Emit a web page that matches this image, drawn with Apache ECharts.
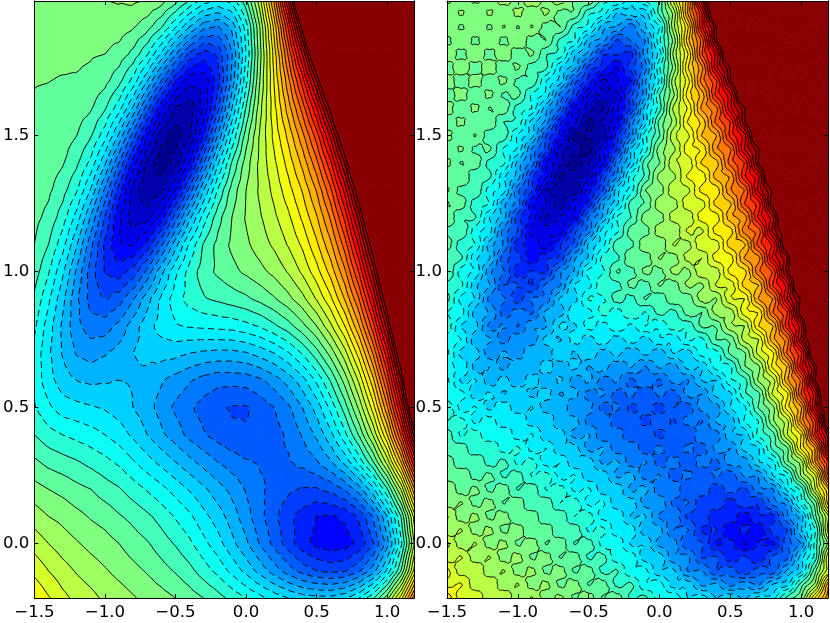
<!DOCTYPE html>
<html>
<head>
<meta charset="utf-8">
<style>
html, body { margin: 0; padding: 0; background: #fff; }
#chart { width: 830px; height: 623px; }
</style>
<script src="https://cdn.jsdelivr.net/npm/echarts@6/dist/echarts.min.js"></script>
</head>
<body>
<div id="chart"></div>
<script>
const xTicks = [-1.5, -1.0, -0.5, 0.0, 0.5, 1.0];
const yTicks = [0.0, 0.5, 1.0, 1.5];
const levels = [-150, -140, -130, -120, -110, -100, -90, -80, -70, -60, -50, -40, -30, -20, -10, 0, 10, 20, 30, 40, 50, 60, 70, 80, 90, 100, 110, 120, 130, 140, 150, 160, 170, 180, 190, 200];

const gridX = [-1.5, -1.4, -1.3, -1.2, -1.1, -1.0, -0.9, -0.8, -0.7, -0.6, -0.5, -0.4, -0.3, -0.2, -0.1, 0, 0.1, 0.2, 0.3, 0.4, 0.5, 0.6, 0.7, 0.8, 0.9, 1.0, 1.1, 1.2];
const leftY = [2.0, 1.9, 1.8, 1.7, 1.6, 1.5, 1.4, 1.3, 1.2, 1.1, 1.0, 0.9, 0.8, 0.7, 0.6, 0.5, 0.4, 0.3, 0.2, 0.1, 0, -0.1, -0.2];
const rightY = [2.0, 1.95, 1.9, 1.85, 1.8, 1.75, 1.7, 1.65, 1.6, 1.55, 1.5, 1.45, 1.4, 1.35, 1.3, 1.25, 1.2, 1.15, 1.1, 1.05, 1.0, 0.95, 0.9, 0.85, 0.8, 0.75, 0.7, 0.65, 0.6, 0.55, 0.5, 0.45, 0.4, 0.35, 0.3, 0.25, 0.2, 0.15, 0.1, 0.05, 0, -0.05, -0.1, -0.15, -0.2];

// left panel, one row per leftY
const leftZ = [
  [27,27,27,28,29,30,31,32,30,25,15,1,-13,-20,-15,8,48,104,172,251,300,300,300,300,300,300,300,300],
  [24,24,24,24,25,25,25,21,14,1,-19,-40,-57,-61,-47,-15,31,84,142,206,280,300,300,300,300,300,300,300],
  [22,22,22,22,21,20,16,7,-9,-32,-59,-83,-95,-88,-61,-20,27,75,122,171,229,300,300,300,300,300,300,300],
  [20.4,20.1,19.4,19,17,13,3,-14,-40,-71,-100,-118,-117,-95,-57,-13,31,71,107,145,189,247,300,300,300,300,300,300],
  [19,18,17,15,11,1,-16,-42,-76,-109,-132,-136,-118,-83,-40,1,37,67,95,124,159,205,269,300,300,300,300,300],
  [18,17,15,10,1,-16,-42,-75,-110,-137,-145,-132,-100,-59,-19,15,42,63,83,107,135,173,224,296,300,300,300,300],
  [17,15,11,2,-13,-38,-70,-105,-133,-146,-137,-109,-71,-32,1,25,43,58,74,93,117,148,191,249,300,300,300,300],
  [16,12,4,-9,-31,-62,-95,-124,-139,-133,-110,-76,-40,-9,14,30,42,53,66,81,101,128,164,213,280,300,300,300],
  [13,7,-5,-24,-51,-81,-109,-126,-124,-106,-75,-43,-15,6,20,31,39,48,58,72,89,112,143,185,242,300,300,300],
  [10,0,-16,-39,-67,-92,-109,-111,-97,-72,-44,-18,1,13,22,28,35,42,51,62,78,98,125,162,211,279,300,300],
  [5,-9,-28,-52,-75,-91,-95,-86,-67,-43,-22,-6,5,12,17,22,27,33,41,52,66,84,108,141,185,244,300,300],
  [-2,-18,-37,-58,-74,-80,-75,-61,-44,-28,-15,-6,-1,2,5,8,13,19,27,37,51,68,91,120,160,214,286,300],
  [-8,-25,-42,-57,-65,-65,-57,-45,-34,-26,-21,-19,-18,-17,-16,-13,-9,-2,6,17,30,48,70,99,136,185,252,300],
  [-13,-28,-41,-51,-54,-51,-46,-40,-37,-36,-37,-40,-42,-43,-43,-41,-36,-30,-21,-9,6,24,46,75,111,157,218,300],
  [-13,-26,-35,-40,-42,-41,-40,-41,-44,-49,-54,-59,-64,-67,-67,-66,-62,-55,-46,-34,-18,1,24,52,87,132,190,268],
  [-9,-18,-25,-27,-29,-31,-35,-40,-46,-54,-62,-68,-74,-78,-81,-81,-76,-70,-62,-50,-36,-17,5,32,65,108,163,235],
  [0,-6,-10,-13,-16,-20,-25,-32,-40,-48,-55,-63,-69,-74,-78,-79,-77,-74,-68,-59,-48,-33,-13,11,41,80,132,199],
  [12,7,4,1,-3,-7,-12,-19,-26,-33,-40,-47,-54,-60,-65,-69,-71,-72,-71,-67,-61,-51,-37,-17,9,44,91,154],
  [24,20,17,13,10,5,1,-5,-11,-17,-24,-31,-38,-46,-53,-61,-68,-74,-78,-81,-81,-77,-69,-55,-33,-1,42,103],
  [35,30,27,23,19,16,11,7,2,-4,-11,-18,-27,-35,-45,-56,-67,-77,-87,-94,-100,-101,-98,-88,-69,-40,1,59],
  [46,40,35,31,27,24,20,15,11,5,-1,-8,-17,-26,-37,-48,-61,-73,-85,-96,-103,-106,-105,-97,-81,-54,-12,45],
  [57,50,44,39,35,31,27,23,19,14,9,3,-5,-13,-23,-33,-44,-55,-65,-74,-80,-83,-81,-72,-55,-28,11,68],
  [70,61,53,47,43,38,35,31,27,24,20,15,10,4,-3,-10,-17,-24,-30,-35,-37,-37,-32,-20,-2,26,66,120]
];

// right panel, one row per rightY, rippled version
const rightZ = [
  [33,21,33,22,35,24,37,26,36,19,21,-5,-7,-26,-9,2,54,98,180,243,300,300,300,300,300,300,300,300],
  [20,32,20,32,21,33,22,32,16,19,-8,-14,-41,-35,-37,3,33,101,149,238,285,300,300,300,300,300,300,300],
  [30,18,30,18,31,19,31,15,20,-5,-13,-46,-51,-67,-41,-21,37,78,150,198,290,300,300,300,300,300,300,300],
  [17,29,17,29,17,28,15,20,-3,-10,-45,-56,-82,-69,-60,-12,23,86,124,198,247,300,300,300,300,300,300,300],
  [28,16,28,16,27,14,22,1,-3,-38,-53,-89,-89,-94,-55,-26,33,69,130,163,238,300,300,300,300,300,300,300],
  [15,27,15,26,13,22,4,2,-30,-46,-85,-95,-112,-86,-65,-11,23,79,107,167,201,283,300,300,300,300,300,300],
  [26,14,25,13,23,7,9,-20,-34,-77,-94,-124,-111,-101,-51,-19,37,65,115,137,197,239,300,300,300,300,300,300],
  [14,25,12,23,8,13,-12,-22,-64,-84,-122,-121,-123,-83,-54,0,28,75,94,143,166,235,276,300,300,300,300,300],
  [25,12,23,9,17,-5,-10,-48,-70,-115,-126,-142,-112,-89,-34,-5,43,61,103,116,167,197,278,300,300,300,300,300],
  [13,23,10,18,0,-2,-35,-53,-99,-117,-144,-128,-115,-65,-35,14,33,71,82,123,140,198,238,300,300,300,300,300],
  [24,11,21,4,7,-22,-36,-81,-104,-143,-139,-138,-94,-65,-13,9,48,57,91,99,143,165,234,286,300,300,300,300],
  [12,22,7,12,-12,-21,-62,-84,-127,-135,-147,-114,-91,-39,-15,26,37,67,71,108,118,170,198,283,300,300,300,300],
  [23,9,17,-4,-7,-44,-64,-111,-127,-149,-131,-115,-65,-38,7,19,49,52,82,85,125,140,201,239,300,300,300,300],
  [11,20,2,3,-28,-44,-88,-108,-142,-133,-129,-86,-61,-14,2,34,37,62,63,95,101,148,168,241,282,300,300,300],
  [22,6,10,-15,-25,-68,-89,-130,-133,-139,-104,-82,-34,-15,20,24,48,47,74,73,109,120,174,203,290,300,300,300],
  [9,16,-6,-10,-47,-65,-108,-119,-137,-113,-98,-53,-33,5,11,37,35,57,55,84,88,130,144,209,252,300,300,300],
  [19,1,1,-30,-45,-87,-103,-132,-118,-112,-69,-49,-9,0,26,25,45,42,66,64,97,104,153,175,252,300,300,300],
  [6,10,-16,-25,-65,-80,-115,-112,-116,-83,-65,-24,-13,16,15,36,31,52,48,75,75,115,124,184,216,298,300,300],
  [16,-6,-10,-45,-61,-98,-103,-117,-91,-78,-38,-24,7,7,28,22,41,36,59,54,86,88,135,152,221,269,300,300],
  [2,2,-28,-39,-77,-85,-108,-92,-88,-51,-39,-6,-3,19,14,31,25,44,40,65,64,101,106,162,188,272,300,300],
  [11,-15,-22,-58,-69,-97,-89,-92,-61,-49,-16,-12,11,6,23,16,33,27,49,44,74,76,118,131,195,234,300,300],
  [-4,-7,-38,-49,-80,-79,-91,-67,-61,-29,-24,0,-4,13,5,21,14,32,28,51,52,84,90,141,163,239,285,300],
  [4,-24,-31,-64,-68,-86,-69,-67,-38,-34,-9,-12,5,-4,11,2,19,13,35,29,59,60,101,110,170,204,296,300],
  [-11,-15,-45,-51,-75,-66,-72,-47,-45,-21,-24,-6,-15,-1,-11,4,-4,15,10,34,33,66,71,120,138,210,259,300],
  [-2,-31,-36,-63,-59,-71,-51,-51,-28,-32,-15,-25,-12,-23,-10,-19,-3,-8,12,11,38,40,80,89,146,175,262,300],
  [-16,-20,-47,-48,-65,-52,-57,-36,-41,-25,-35,-23,-36,-24,-35,-21,-28,-10,-13,10,12,44,50,97,114,181,225,300],
  [-7,-34,-35,-57,-48,-57,-40,-46,-31,-42,-31,-46,-36,-49,-37,-47,-30,-36,-15,-15,12,18,54,67,121,147,228,290],
  [-19,-21,-44,-40,-54,-40,-49,-35,-46,-37,-51,-44,-59,-49,-61,-48,-55,-36,-39,-15,-12,19,27,73,90,155,194,295],
  [-7,-32,-29,-46,-36,-47,-34,-47,-38,-55,-48,-65,-58,-73,-61,-72,-56,-61,-40,-40,-12,-5,32,44,97,122,200,258],
  [-17,-16,-36,-28,-41,-30,-43,-35,-51,-46,-64,-58,-75,-67,-80,-67,-75,-57,-60,-36,-33,-2,7,52,66,130,166,262],
  [-3,-24,-19,-33,-23,-37,-29,-46,-40,-60,-56,-74,-68,-84,-74,-85,-70,-76,-56,-56,-30,-23,11,26,75,98,173,225],
  [-10,-6,-23,-14,-28,-20,-36,-30,-49,-45,-64,-60,-77,-70,-84,-73,-82,-66,-71,-49,-48,-19,-10,28,45,104,137,229],
  [6,-12,-4,-19,-10,-26,-19,-38,-34,-54,-49,-69,-63,-80,-71,-84,-71,-80,-62,-65,-42,-39,-7,5,49,70,142,189],
  [0,7,-9,0,-15,-8,-24,-20,-39,-35,-53,-49,-67,-61,-77,-67,-80,-67,-75,-57,-60,-36,-31,3,17,72,101,187],
  [18,1,10,-5,3,-13,-6,-25,-20,-39,-34,-53,-48,-66,-59,-75,-65,-78,-65,-73,-55,-57,-31,-23,17,34,101,144],
  [12,20,5,13,-2,5,-11,-6,-24,-19,-38,-33,-52,-47,-65,-59,-75,-67,-80,-68,-77,-58,-59,-30,-18,31,57,138],
  [30,14,23,7,16,-1,7,-11,-5,-23,-18,-37,-32,-52,-47,-67,-62,-80,-72,-87,-75,-83,-63,-61,-27,-7,50,93],
  [24,31,16,24,9,17,0,7,-10,-4,-23,-18,-38,-34,-55,-52,-73,-69,-88,-81,-96,-83,-89,-65,-57,-14,15,91],
  [41,24,33,17,25,10,17,1,8,-10,-5,-24,-21,-41,-39,-62,-61,-83,-81,-100,-94,-107,-92,-94,-63,-46,7,53],
  [35,41,25,33,17,26,10,17,1,7,-12,-7,-28,-24,-47,-46,-70,-69,-92,-89,-108,-97,-108,-86,-81,-41,-11,60],
  [52,34,41,25,33,18,26,9,17,-1,5,-14,-11,-32,-31,-54,-55,-79,-79,-102,-97,-112,-99,-103,-75,-60,-6,37],
  [46,51,34,41,25,34,18,25,9,16,-2,4,-17,-13,-36,-34,-58,-58,-81,-79,-97,-88,-99,-78,-74,-35,-6,64],
  [63,44,50,33,41,25,33,17,25,8,15,-3,1,-19,-17,-39,-38,-61,-59,-80,-74,-89,-75,-78,-49,-34,17,60],
  [58,61,43,49,33,41,25,33,17,25,9,15,-3,2,-19,-15,-36,-33,-53,-48,-64,-54,-62,-40,-34,5,33,102],
  [76,55,59,41,49,32,41,25,33,18,26,9,16,-2,3,-16,-11,-30,-24,-41,-31,-43,-26,-26,4,20,72,112]
];

function jet(t) {
  const c = (v) => Math.round(255 * Math.max(0, Math.min(1, v)));
  return "rgb(" + c(1.5 - Math.abs(4 * t - 3)) + "," + c(1.5 - Math.abs(4 * t - 2)) + "," + c(1.5 - Math.abs(4 * t - 1)) + ")";
}

// split a cell into 4 triangles around its centre
function cellTriangles(zRows, ys, i, j) {
  const a = [gridX[i], ys[j], zRows[j][i]];
  const b = [gridX[i + 1], ys[j], zRows[j][i + 1]];
  const c = [gridX[i + 1], ys[j + 1], zRows[j + 1][i + 1]];
  const d = [gridX[i], ys[j + 1], zRows[j + 1][i]];
  const m = [(a[0] + b[0]) / 2, (a[1] + d[1]) / 2, (a[2] + b[2] + c[2] + d[2]) / 4];
  return [[a, b, m], [b, c, m], [c, d, m], [d, a, m]];
}

function clipPoly(poly, level, above) {
  const out = [];
  for (let k = 0; k < poly.length; k++) {
    const p = poly[k];
    const q = poly[(k + 1) % poly.length];
    const pIn = above ? p[2] >= level : p[2] <= level;
    const qIn = above ? q[2] >= level : q[2] <= level;
    if (pIn) out.push(p);
    if (pIn !== qIn) {
      const t = (level - p[2]) / (q[2] - p[2]);
      out.push([p[0] + t * (q[0] - p[0]), p[1] + t * (q[1] - p[1]), level]);
    }
  }
  return out;
}

function makeBands(zRows, ys) {
  const cells = [];
  for (let j = 0; j < ys.length - 1; j++) {
    for (let i = 0; i < gridX.length - 1; i++) {
      const polys = [];
      cellTriangles(zRows, ys, i, j).forEach((tri) => {
        const top = levels[levels.length - 1];
        const over = clipPoly(tri, top, true);
        if (over.length > 2) polys.push({ pts: over, color: "#880000" });
        for (let l = 0; l < levels.length - 1; l++) {
          const lo = levels[l];
          const hi = levels[l + 1];
          let band = clipPoly(tri, lo, true);
          if (band.length > 2) band = clipPoly(band, hi, false);
          if (band.length > 2) {
            const t = ((lo + hi) / 2 - levels[0]) / (top - levels[0]);
            polys.push({ pts: band, color: jet(t) });
          }
        }
      });
      cells.push({ x: gridX[i], y: ys[j], polys: polys });
    }
  }
  return cells;
}

// marching triangles, then join the pieces so dashes run along the line
function makeLines(zRows, ys) {
  const lines = [];
  levels.slice(1).forEach((level) => {
    const l = level + 0.001;
    const segs = [];
    for (let j = 0; j < ys.length - 1; j++) {
      for (let i = 0; i < gridX.length - 1; i++) {
        cellTriangles(zRows, ys, i, j).forEach((tri) => {
          const hit = [];
          for (let k = 0; k < 3; k++) {
            const p = tri[k];
            const q = tri[(k + 1) % 3];
            if (p[2] < l !== q[2] < l) {
              const t = (l - p[2]) / (q[2] - p[2]);
              hit.push([p[0] + t * (q[0] - p[0]), p[1] + t * (q[1] - p[1])]);
            }
          }
          if (hit.length === 2) segs.push(hit);
        });
      }
    }
    const key = (p) => p[0].toFixed(4) + "," + p[1].toFixed(4);
    const ends = {};
    segs.forEach((s, n) => {
      (ends[key(s[0])] = ends[key(s[0])] || []).push(n);
      (ends[key(s[1])] = ends[key(s[1])] || []).push(n);
    });
    const used = segs.map(() => false);
    const walk = (path) => {
      for (;;) {
        const last = path[path.length - 1];
        const next = (ends[key(last)] || []).find((n) => !used[n]);
        if (next === undefined) return;
        used[next] = true;
        const s = segs[next];
        path.push(key(s[0]) === key(last) ? s[1] : s[0]);
      }
    };
    segs.forEach((s, n) => {
      if (used[n]) return;
      used[n] = true;
      const path = [s[0], s[1]];
      walk(path);
      path.reverse();
      walk(path);
      lines.push({ x: path[0][0], y: path[0][1], pts: path, dashed: level < 0 });
    });
  });
  return lines;
}

function bandSeries(cells, axis) {
  return {
    type: "custom",
    coordinateSystem: "cartesian2d",
    xAxisIndex: axis,
    yAxisIndex: axis,
    clip: true,
    silent: true,
    animation: false,
    z: 2,
    data: cells.map((c) => [c.x, c.y]),
    renderItem(params, api) {
      return {
        type: "group",
        children: cells[params.dataIndex].polys.map((p) => ({
          type: "polygon",
          shape: { points: p.pts.map((pt) => api.coord([pt[0], pt[1]])) },
          style: { fill: p.color, stroke: p.color, lineWidth: 1 },
        })),
      };
    },
  };
}

function lineSeries(lines, axis, smooth) {
  return {
    type: "custom",
    coordinateSystem: "cartesian2d",
    xAxisIndex: axis,
    yAxisIndex: axis,
    clip: true,
    silent: true,
    animation: false,
    z: 3,
    data: lines.map((c) => [c.x, c.y]),
    renderItem(params, api) {
      const line = lines[params.dataIndex];
      return {
        type: "polyline",
        shape: { points: line.pts.map((pt) => api.coord(pt)), smooth: smooth },
        style: {
          fill: null,
          stroke: "#000",
          lineWidth: 1,
          lineDash: line.dashed ? [6.5, 4] : null,
        },
      };
    },
  };
}

const tickLabel = (v) => Number(v).toFixed(1).replace("-", "\u2212");

function xAxis(index, position, labels) {
  return {
    type: "value",
    gridIndex: index,
    position: position,
    min: -1.5,
    max: 1.19,
    z: 5,
    splitLine: { show: false },
    axisLine: { show: true, onZero: false, lineStyle: { color: "#000", width: 1 } },
    axisTick: { show: true, inside: true, length: 4, customValues: xTicks, lineStyle: { color: "#000" } },
    axisLabel: {
      show: labels,
      customValues: xTicks,
      formatter: tickLabel,
      color: "#000",
      fontFamily: "DejaVu Sans",
      fontSize: 16.6,
      margin: 6,
    },
  };
}

function yAxis(index, position, labels) {
  return {
    type: "value",
    gridIndex: index,
    position: position,
    min: -0.2,
    max: 1.995,
    z: 5,
    splitLine: { show: false },
    axisLine: { show: true, onZero: false, lineStyle: { color: "#000", width: 1 } },
    axisTick: { show: true, inside: true, length: 4, customValues: yTicks, lineStyle: { color: "#000" } },
    axisLabel: {
      show: labels,
      customValues: yTicks,
      formatter: tickLabel,
      color: "#000",
      fontFamily: "DejaVu Sans",
      fontSize: 16.6,
      margin: 5,
    },
  };
}

const myChart = echarts.init(document.getElementById("chart"), null, { renderer: "canvas" });
myChart.setOption({
  animation: false,
  backgroundColor: "#fff",
  grid: [
    { left: 33, top: 1, width: 381, height: 597 },
    { left: 447, top: 1, width: 381, height: 597 },
  ],
  xAxis: [
    xAxis(0, "bottom", true),
    xAxis(1, "bottom", true),
    xAxis(0, "top", false),
    xAxis(1, "top", false),
  ],
  yAxis: [
    yAxis(0, "left", true),
    yAxis(1, "left", true),
    yAxis(0, "right", false),
    yAxis(1, "right", false),
  ],
  series: [
    bandSeries(makeBands(leftZ, leftY), 0),
    lineSeries(makeLines(leftZ, leftY), 0, 0.5),
    bandSeries(makeBands(rightZ, rightY), 1),
    lineSeries(makeLines(rightZ, rightY), 1, 0.8),
  ],
});
</script>
</body>
</html>
